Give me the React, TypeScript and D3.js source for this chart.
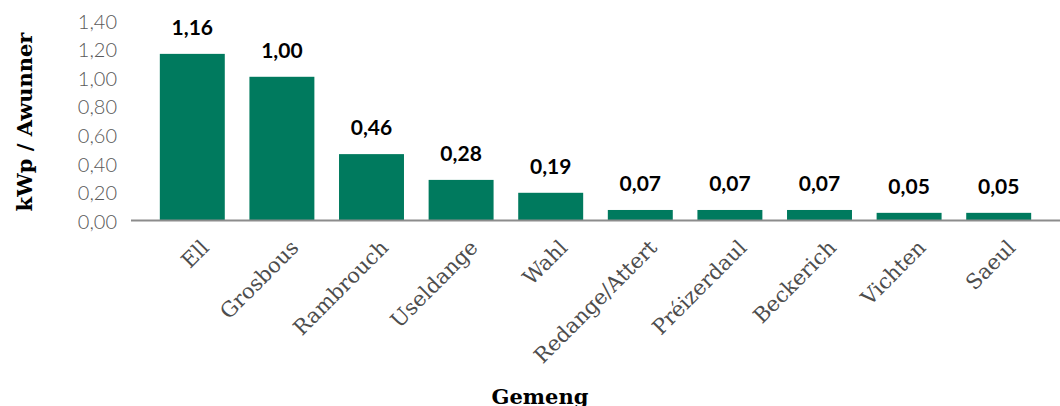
import * as d3 from "d3";
import React, { useEffect, useRef } from "react";

const communes = [
    "Ell",
    "Grosbous",
    "Rambrouch",
    "Useldange",
    "Wahl",
    "Redange/Attert",
    "Préizerdaul",
    "Beckerich",
    "Vichten",
    "Saeul",
];
const kwpPerResident = [1.16, 1.0, 0.46, 0.28, 0.19, 0.07, 0.07, 0.07, 0.05, 0.05];
const yTicks = [0, 0.2, 0.4, 0.6, 0.8, 1.0, 1.2, 1.4];

const W = 1060;
const H = 406;
const GREEN = "#007a5e";
const SLAB = "'DejaVu Serif', serif";

const comma = (v: number) => d3.format(".2f")(v).replace(".", ",");

const App: React.FC = () => {
    const svgRef = useRef<SVGSVGElement>(null);

    useEffect(() => {
        const svg = d3.select(svgRef.current);
        svg.selectAll("*").remove();

        const x = d3
            .scaleBand<string>()
            .domain(communes)
            .range([147.5, 1043.5])
            .paddingInner(0.275)
            .paddingOuter(0.1375);

        const y = d3.scaleLinear().domain([0, 1.4]).range([220, 19.5]);

        // y tick labels (the chart has no gridlines)
        svg.append("g")
            .selectAll("text")
            .data(yTicks)
            .enter()
            .append("text")
            .attr("x", 117)
            .attr("y", d => y(d) + 2)
            .attr("dy", "0.35em")
            .attr("text-anchor", "end")
            .attr("font-family", "Lato, sans-serif")
            .attr("font-weight", 300)
            .attr("font-size", 20)
            .attr("fill", "#595959")
            .text(d => comma(d));

        svg.append("g")
            .selectAll("rect")
            .data(kwpPerResident)
            .enter()
            .append("rect")
            .attr("x", (d, i) => x(communes[i])!)
            .attr("width", x.bandwidth())
            .attr("y", d => y(d))
            .attr("height", d => y(0) - y(d))
            .attr("fill", GREEN);

        // baseline
        svg.append("line")
            .attr("x1", 131)
            .attr("x2", W)
            .attr("y1", y(0) + 0.5)
            .attr("y2", y(0) + 0.5)
            .attr("stroke", "#8c8c8c")
            .attr("stroke-width", 2);

        // value labels
        svg.append("g")
            .selectAll("text")
            .data(kwpPerResident)
            .enter()
            .append("text")
            .attr("x", (d, i) => x(communes[i])! + x.bandwidth() / 2)
            .attr("y", d => y(d) - 19)
            .attr("text-anchor", "middle")
            .attr("font-family", "Lato, sans-serif")
            .attr("font-weight", 700)
            .attr("font-size", 21)
            .attr("fill", "#000")
            .text(d => comma(d));

        // category labels, rotated
        svg.append("g")
            .selectAll("text")
            .data(communes)
            .enter()
            .append("text")
            .attr(
                "transform",
                d =>
                    "translate(" +
                    (x(d)! + x.bandwidth() / 2 + 18) +
                    "," +
                    249 +
                    ") rotate(-45)",
            )
            .attr("text-anchor", "end")
            .attr("font-family", SLAB)
            .attr("font-size", 21)
            .attr("fill", "#4d4d4d")
            .text(d => d);

        svg.append("text")
            .attr("transform", "translate(32,122) rotate(-90)")
            .attr("text-anchor", "middle")
            .attr("font-family", SLAB)
            .attr("font-weight", 700)
            .attr("font-size", 21)
            .attr("fill", "#000")
            .text("kWp / Awunner");

        svg.append("text")
            .attr("x", 540)
            .attr("y", 404)
            .attr("text-anchor", "middle")
            .attr("font-family", SLAB)
            .attr("font-weight", 700)
            .attr("font-size", 21)
            .attr("fill", "#000")
            .text("Gemeng");
    }, []);

    return (
        <svg
            ref={svgRef}
            width={W}
            height={H}
            style={{ position: "absolute", left: 0, top: 0, background: "#fff" }}
        />
    );
};

export default App;
